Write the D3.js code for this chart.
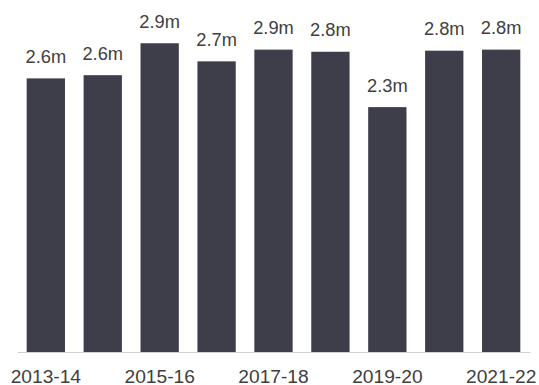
<!DOCTYPE html>
<html>
<head>
<meta charset="utf-8">
<script src="https://cdn.jsdelivr.net/npm/d3@7"></script>
<style>
  html, body { margin: 0; padding: 0; background: #ffffff; }
  svg { display: block; }
  text { font-family: "Liberation Sans", Arial, sans-serif; }
</style>
</head>
<body>
<div id="chart"></div>
<script>
const categories = ["2013-14", "2014-15", "2015-16", "2016-17", "2017-18", "2018-19", "2019-20", "2020-21", "2021-22"];
const values = [2.57, 2.60, 2.90, 2.73, 2.84, 2.82, 2.30, 2.83, 2.84];
const valueLabels = ["2.6m", "2.6m", "2.9m", "2.7m", "2.9m", "2.8m", "2.3m", "2.8m", "2.8m"];
const tickLabels = ["2013-14", "2015-16", "2017-18", "2019-20", "2021-22"];

const width = 539, height = 385;
const svg = d3.select("#chart").append("svg")
  .attr("width", width).attr("height", height);

const x = d3.scaleBand()
  .domain(categories)
  .range([17, 530])
  .paddingInner(0.327)
  .paddingOuter(0.17);

const y = d3.scaleLinear()
  .domain([0, 3])
  .range([352, 32.6]);

svg.selectAll("rect.bar")
  .data(categories)
  .enter().append("rect")
  .attr("class", "bar")
  .attr("x", d => x(d))
  .attr("width", x.bandwidth())
  .attr("y", (d, i) => y(values[i]))
  .attr("height", (d, i) => y(0) - y(values[i]))
  .attr("fill", "#3d3e4a");

svg.selectAll("text.val")
  .data(categories)
  .enter().append("text")
  .attr("class", "val")
  .attr("x", d => x(d) + x.bandwidth() / 2)
  .attr("y", (d, i) => y(values[i]) - 15.5)
  .attr("text-anchor", "middle")
  .attr("font-size", "18.3px")
  .attr("fill", "#404040")
  .text((d, i) => valueLabels[i]);

const xAxis = d3.axisBottom(x)
  .tickValues(tickLabels)
  .tickSize(0)
  .tickPadding(0);

const gx = svg.append("g")
  .attr("transform", `translate(0, ${y(0)})`)
  .call(xAxis);

gx.select(".domain")
  .attr("stroke", "#d0d0d0")
  .attr("stroke-width", 1.2);

gx.selectAll(".tick text")
  .attr("font-family", "\"Liberation Sans\", Arial, sans-serif")
  .attr("font-size", "19.2px")
  .attr("fill", "#404040")
  .attr("dy", null)
  .attr("y", 30.5);
</script>
</body>
</html>
